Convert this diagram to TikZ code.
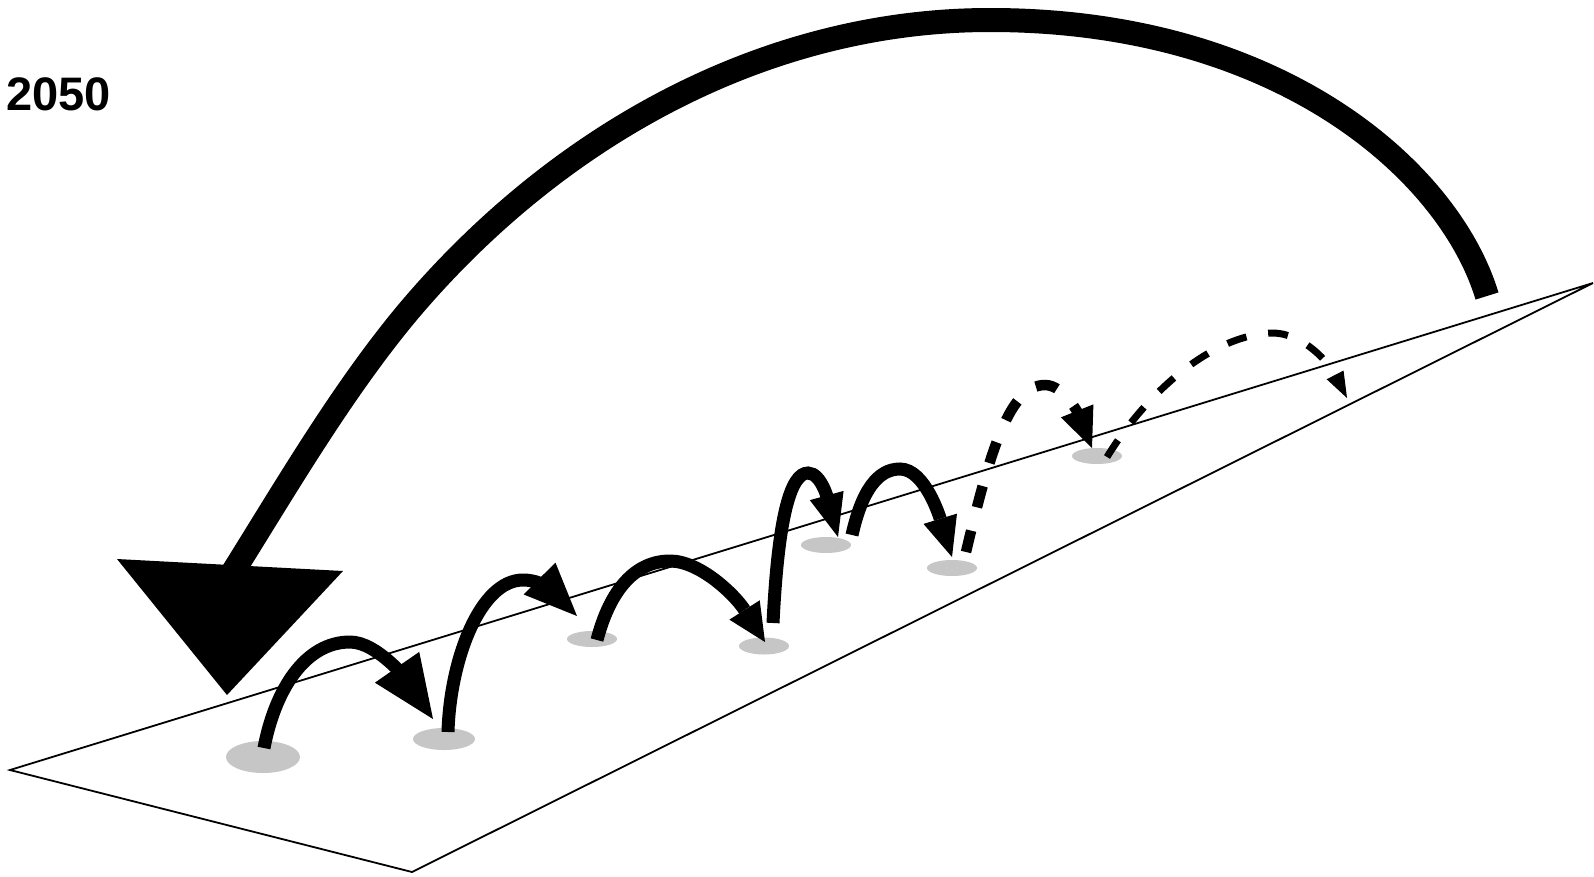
\documentclass[tikz,border=0pt]{standalone}
\usepackage{fontspec}
\setmainfont{Liberation Sans}
\usetikzlibrary{arrows.meta}
\definecolor{spotgray}{RGB}{198,198,198}
\begin{document}
\begin{tikzpicture}[x=1pt,y=-1pt,
  plane/.style={draw=black,line width=1.8pt,line join=miter},
  spot/.style={fill=spotgray},
  hop/.style={line width=13pt},
  dhop/.style={line width=10.5pt,dash pattern=on 22pt off 24pt},
  thop/.style={line width=7pt,dash pattern=on 20pt off 22pt},
  big/.style={line width=24pt}]
\useasboundingbox (0,0) rectangle (1594,876);
\fill[white] (0,0) rectangle (1594,876);
% plane
\coordinate (pl) at (10,770);
\coordinate (pb) at (412,872);
\coordinate (pr) at (1593,283);
\draw[plane] (pl) -- (pr) -- (pb) -- cycle;
% spots
\coordinate (s1) at (263,757);
\coordinate (s2) at (444,739);
\coordinate (s3) at (592,639);
\coordinate (s4) at (764,646);
\coordinate (s5) at (826,545);
\coordinate (s6) at (952,568);
\coordinate (s7) at (1097,456);
\fill[spot] (s1) ellipse [x radius=37pt, y radius=16pt];
\fill[spot] (s2) ellipse [x radius=31pt, y radius=11pt];
\fill[spot] (s3) ellipse [x radius=25pt, y radius=8pt];
\fill[spot] (s4) ellipse [x radius=25pt, y radius=8.5pt];
\fill[spot] (s5) ellipse [x radius=25pt, y radius=8pt];
\fill[spot] (s6) ellipse [x radius=25pt, y radius=8pt];
\fill[spot] (s7) ellipse [x radius=25pt, y radius=8pt];
% big arc
\coordinate (bs) at (1487,296);
\coordinate (bp) at (990,20);
\coordinate (bm) at (407,313);
\coordinate (be) at (225,585);
\draw[big] (bs) .. controls (1449,171) and (1280,20) .. (bp)
  .. controls (762,20) and (554,138) .. (bm)
  .. controls (343,390) and (289,482) .. (236,567) -- (be);
\coordinate (ta) at (117,559);
\coordinate (tb) at (343,571);
\coordinate (tc) at (227,695);
\fill (ta) -- (tb) -- (tc) -- cycle;
% hops
\coordinate (h1s) at (264,748); \coordinate (h1e) at (433,719);
\coordinate (h2s) at (448,732); \coordinate (h2e) at (577,616);
\coordinate (h3s) at (597,640); \coordinate (h3e) at (765,642);
\coordinate (h4s) at (773,623); \coordinate (h4e) at (838,537);
\coordinate (h5s) at (852,535); \coordinate (h5e) at (952,557);
\coordinate (h6s) at (966,552); \coordinate (h6e) at (1092,448);
\coordinate (h7s) at (1107,457); \coordinate (h7e) at (1347,398);
\draw[hop,-{Triangle[length=63pt,width=54pt,line width=0pt]}] (h1s)
  .. controls (275,690) and (305,642) .. (350,642)
  .. controls (378,642) and (408,683) .. (h1e);
\draw[hop,-{Triangle[length=53pt,width=45pt,line width=0pt]}] (h2s)
  .. controls (450,660) and (480,580) .. (523,580)
  .. controls (548,580) and (562,601) .. (h2e);
\draw[hop,-{Triangle[length=38pt,width=36pt,line width=0pt]}] (h3s)
  .. controls (610,590) and (635,561) .. (670,561)
  .. controls (700,561) and (735,595) .. (h3e);
\draw[hop,-{Triangle[length=43pt,width=35pt,line width=0pt]}] (h4s)
  .. controls (778,520) and (790,473) .. (808,473)
  .. controls (822,473) and (829,504) .. (h4e);
\draw[hop,-{Triangle[length=40pt,width=35pt,line width=0pt]}] (h5s)
  .. controls (862,490) and (878,469) .. (900,469)
  .. controls (925,469) and (940,518) .. (h5e);
\draw[dhop,-{Triangle[length=40pt,width=35pt,line width=0pt]}] (h6s)
  .. controls (990,450) and (1010,385) .. (1045,385)
  .. controls (1065,385) and (1080,418) .. (h6e);
\draw[thop,-{Triangle[length=26pt,width=19pt,line width=0pt]}] (h7s)
  .. controls (1145,395) and (1210,335) .. (1272,333)
  .. controls (1305,333) and (1330,365) .. (h7e);
% year
\node[anchor=base west,inner sep=0pt,font=\fontsize{47}{47}\selectfont\bfseries] (year) at (6,110) {2050};
\end{tikzpicture}
\end{document}
